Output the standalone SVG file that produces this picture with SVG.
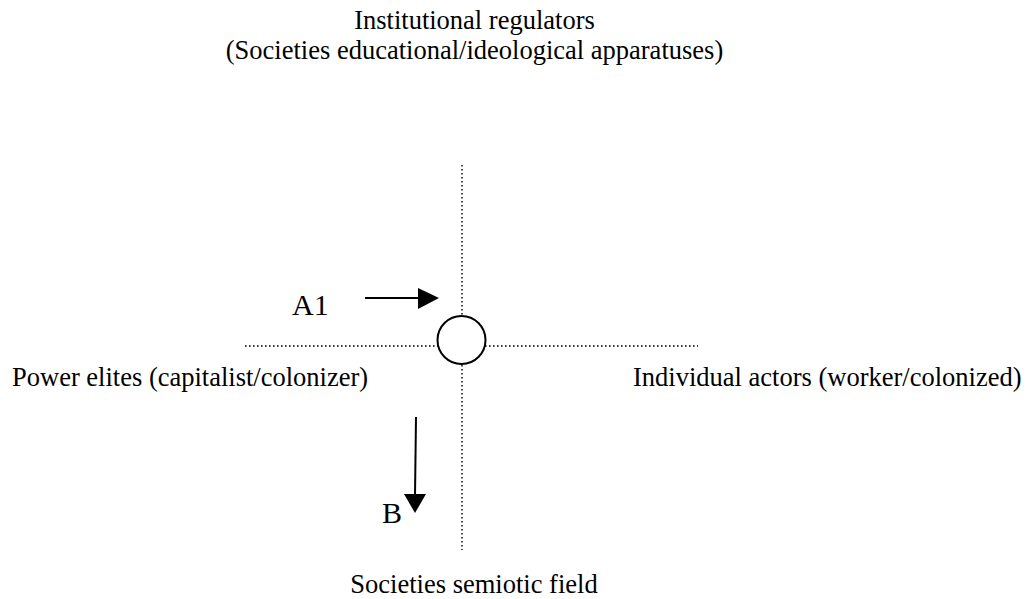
<svg xmlns="http://www.w3.org/2000/svg" width="1029" height="599" viewBox="0 0 1029 599">
  <style>
    text { font-family: "Liberation Serif", "Times New Roman", serif; fill: #000; }
    .lbl { font-size: 26.5px; }
    .big { font-size: 30px; }
    .dot { stroke: #000; stroke-width: 1.4; stroke-dasharray: 1.6 2.4; fill: none; }
    .arr { stroke: #000; stroke-width: 2; fill: none; }
  </style>
  <rect width="1029" height="599" fill="#fff"/>
  <g id="connectors">
    <line class="dot" x1="462" y1="165" x2="462" y2="550"/>
    <line class="dot" x1="245" y1="346" x2="698" y2="346"/>
    <g id="arrow-a1">
      <line class="arr" x1="365" y1="298" x2="420" y2="298"/>
      <polygon points="418,288 439,298 418,309" fill="#000"/>
    </g>
    <g id="arrow-b">
      <line class="arr" x1="416" y1="417" x2="415" y2="496"/>
      <polygon points="404,494 426,494 415,513" fill="#000"/>
    </g>
  </g>
  <g id="center-node">
    <circle cx="461.5" cy="340" r="24" fill="#fff" stroke="#000" stroke-width="2"/>
  </g>
  <g id="node-top">
    <text class="lbl" x="474.5" y="28.5" text-anchor="middle">Institutional regulators</text>
    <text class="lbl" x="474.5" y="58.5" text-anchor="middle">(Societies educational/ideological apparatuses)</text>
  </g>
  <g id="node-left">
    <text class="lbl" x="12" y="386">Power elites (capitalist/colonizer)</text>
  </g>
  <g id="node-right">
    <text class="lbl" x="633" y="386">Individual actors (worker/colonized)</text>
  </g>
  <g id="node-bottom">
    <text class="lbl" x="474" y="593" text-anchor="middle">Societies semiotic field</text>
  </g>
  <g id="label-a1">
    <text class="big" x="292" y="315">A1</text>
  </g>
  <g id="label-b">
    <text class="big" x="382" y="523">B</text>
  </g>
</svg>
